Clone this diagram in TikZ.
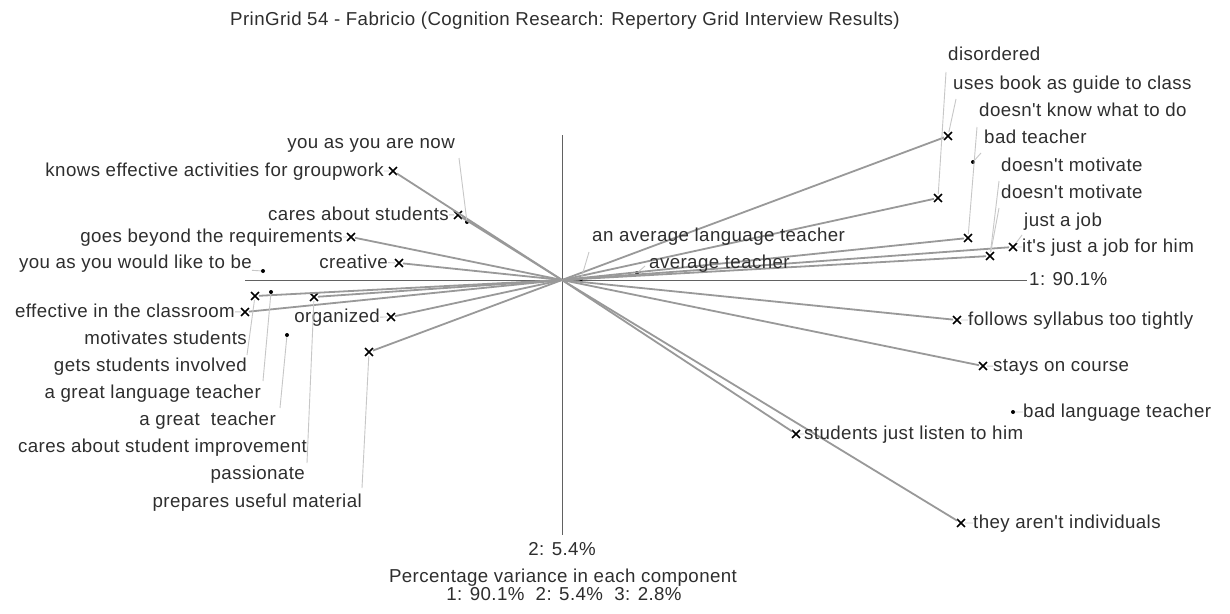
\documentclass[tikz,border=0pt]{standalone}
\usepackage{fontspec}
\setmainfont{Liberation Sans}[Ligatures=TeXOff, LetterSpace=2.2]
\usetikzlibrary{shapes.misc}
\newcommand{\lbfont}{\fontsize{18.7}{22}\selectfont}
\tikzset{
  con/.style={draw=black!40, line width=1.8pt},
  lead/.style={draw=black!22, line width=0.9pt},
  axisl/.style={draw=black!62, line width=1pt},
  xm/.style={cross out, draw=black, line width=1.7pt, minimum size=6.2pt, inner sep=0pt},
  el/.style={circle, fill=black, inner sep=0pt, minimum size=4pt},
  lbl/.style={text=black!82, inner sep=0pt, font=\lbfont, yshift=-2.5pt},
  lw/.style={lbl, anchor=mid west},
  le/.style={lbl, anchor=mid east}
}
\begin{document}
\begin{tikzpicture}[x=1pt,y=-1pt]
\useasboundingbox[fill=white] (0,0) rectangle (1230,613);
% title and footer
\node[lbl] (title) at (565,18) {PrinGrid 54 - Fabricio (Cognition Research: Repertory Grid Interview Results)};
\node[lbl] (foot1) at (563,575) {Percentage variance in each component};
\node[lbl] (foot2) at (564,592) {1: 90.1\%\ \ 2: 5.4\%\ \ 3: 2.8\%};
% axes
\coordinate (O) at (562,280);
\coordinate (axL) at (245,280);
\coordinate (axR) at (1027,280);
\coordinate (axT) at (562,135);
\coordinate (axB) at (562,535);
\draw[axisl] (axL) -- (axR);
\draw[axisl] (axT) -- (axB);
\node[lw] (ax1) at (1029,280) {1: 90.1\%};
\node[lbl] (ax2) at (562,547) {2: 5.4\%};
% construct poles (crosses)
\node[xm] (c1) at (393,171) {};
\node[xm] (c2) at (458,215) {};
\node[xm] (c3) at (351,237) {};
\node[xm] (c4) at (399,263) {};
\node[xm] (c5) at (255,296) {};
\node[xm] (c6) at (314,297) {};
\node[xm] (c7) at (245,312) {};
\node[xm] (c8) at (391,317) {};
\node[xm] (c9) at (369,352) {};
\node[xm] (d1) at (948,136) {};
\node[xm] (d2) at (938,198) {};
\node[xm] (d3) at (968,238) {};
\node[xm] (d4) at (990,256) {};
\node[xm] (d5) at (1013,247) {};
\node[xm] (d6) at (957,320) {};
\node[xm] (d7) at (983,366) {};
\node[xm] (d8) at (796,434) {};
\node[xm] (d9) at (961,523) {};
% elements (dots)
\node[el] (e1) at (467,222) {};
\node[el] (e2) at (263,271) {};
\node[el] (e3) at (271,292) {};
\node[el] (e4) at (287,335) {};
\node[el] (e5) at (581,279) {};
\node[el] (e6) at (637,273) {};
\node[el] (e7) at (973,162) {};
\node[el] (e8) at (1013,412) {};
% construct lines
\foreach \n in {c1,c2,c3,c4,c5,c6,c7,c8,c9,d1,d2,d3,d4,d5,d6,d7,d8,d9}
  \draw[con] (O) -- (\n);
% left labels
\node[le] (l15) at (455,143) {you as you are now};
\node[le] (l1) at (384,171) {knows effective activities for groupwork};
\node[le] (l2) at (449,215) {cares about students};
\node[le] (l3) at (343,237) {goes beyond the requirements};
\node[le] (l4) at (252,263) {you as you would like to be};
\node[le] (l5) at (388,263) {creative};
\node[le] (l6) at (235,312) {effective in the classroom};
\node[le] (l7) at (380,317) {organized};
\node[le] (l8) at (247,339) {motivates students};
\node[le] (l9) at (247,366) {gets students involved};
\node[le] (l10) at (261,393) {a great language teacher};
\node[le] (l11) at (276,420) {a great\ \ teacher};
\node[le] (l12) at (307,447) {cares about student improvement};
\node[le] (l13) at (305,474) {passionate};
\node[le] (l14) at (362,502) {prepares useful material};
% right labels
\node[lw] (r1) at (948,55) {disordered};
\node[lw] (r2) at (953,84) {uses book as guide to class};
\node[lw] (r3) at (979,111) {doesn't know what to do};
\node[lw] (r4) at (984,138) {bad teacher};
\node[lw] (r5) at (1001,166) {doesn't motivate};
\node[lw] (r6) at (1001,193) {doesn't motivate};
\node[lw] (r7) at (1024,221) {just a job};
\node[lw] (r8) at (1022,247) {it's just a job for him};
\node[lw] (r9) at (968,320) {follows syllabus too tightly};
\node[lw] (r10) at (993,366) {stays on course};
\node[lw] (r11) at (1023,412) {bad language teacher};
\node[lw] (r12) at (804,434) {students just listen to him};
\node[lw] (r13) at (973,523) {they aren't individuals};
\node[lw] (m1) at (592,236) {an average language teacher};
\node[lw] (m2) at (649,263) {average teacher};
% short leaders
\foreach \a/\b in {l1/c1,l2/c2,l3/c3,l5/c4,l6/c7,l7/c8,l4/e2,r8/d5,r9/d6,r10/d7,r11/e8,r12/d8,r13/d9}
  \draw[lead] (\a) -- (\b);
% long leaders
\coordinate (k1) at (459,158);
\coordinate (k2) at (946,72);
\coordinate (k3) at (956,99);
\coordinate (k4) at (977,127);
\coordinate (k5) at (981,153);
\coordinate (k6) at (999,181);
\coordinate (k7) at (999,208);
\coordinate (k8) at (1022,235);
\coordinate (k9) at (247,355);
\coordinate (k10) at (263,381);
\coordinate (k11) at (280,408);
\coordinate (k12) at (307,463);
\coordinate (k13) at (362,488);
\coordinate (k14) at (589,252);
\coordinate (k15) at (645,266);
\draw[lead] (k1) -- (e1);
\draw[lead] (k2) -- (d2);
\draw[lead] (k3) -- (d1);
\draw[lead] (k4) -- (d3);
\draw[lead] (k5) -- (e7);
\draw[lead] (k6) -- (d4);
\draw[lead] (k7) -- (d4);
\draw[lead] (k8) -- (d5);
\draw[lead] (k9) -- (c5);
\draw[lead] (k10) -- (e3);
\draw[lead] (k11) -- (e4);
\draw[lead] (k12) -- (c6);
\draw[lead] (k13) -- (c9);
\draw[lead] (k14) -- (e5);
\draw[lead] (k15) -- (e6);
\end{tikzpicture}
\end{document}
